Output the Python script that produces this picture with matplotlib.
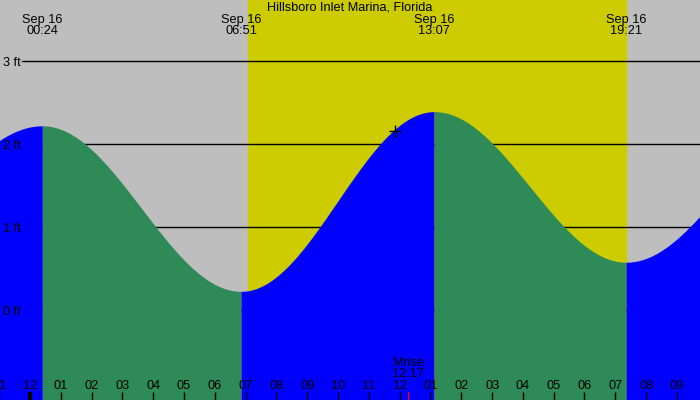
import matplotlib.pyplot as plt
import numpy as np

plt.rcParams["font.family"] = ["Liberation Sans", "DejaVu Sans"]

# tide extremes (hours after midnight Sep 16, feet); first and last lie outside the view
extreme_hours = [-6.6, 0.4, 6.85, 13.117, 19.35, 25.6]
extreme_feet = [0.35, 2.22, 0.23, 2.39, 0.58, 2.3]
# the four extremes that get a label at the top
label_hours = [0.4, 6.85, 13.117, 19.35]
label_times = ["00:24", "06:51", "13:07", "19:21"]
label_date = "Sep 16"

sunrise, sunset = 7.07, 19.34
moonrise, moonrise_label = 12.28, "12:17"
now_hour, now_feet = 11.85, 2.16
foot_levels = [0, 1, 2, 3]
hour_ticks = list(range(-1, 22))
title = "Hillsboro Inlet Marina, Florida"

night = "#bebebe"
day = "#cccc00"
falling = "#2e8b57"
rising = "#0000ff"
fs = 9.2

x_lo, x_hi = -0.974, 21.75
y_lo, y_hi = -1.076, 3.732

fig = plt.figure(figsize=(7, 4), dpi=100)
ax = fig.add_axes([0, 0, 1, 1])
ax.set_facecolor(night)
ax.set_xlim(x_lo, x_hi)
ax.set_ylim(y_lo, y_hi)
ax.axis("off")
ax.add_patch(plt.Rectangle((0, 0), 1, 1, transform=ax.transAxes, color=night, zorder=0))
ax.axvspan(sunrise, sunset, color=day, zorder=1)

for lvl in foot_levels:
    ax.axhline(lvl, xmin=0.031, xmax=1, color="black", lw=1, zorder=2)

# cosine curve between consecutive extremes
for i in range(len(extreme_hours) - 1):
    t0, t1 = extreme_hours[i], extreme_hours[i + 1]
    h0, h1 = extreme_feet[i], extreme_feet[i + 1]
    t = np.linspace(t0, t1, 200)
    h = h0 + (h1 - h0) * (1 - np.cos(np.pi * (t - t0) / (t1 - t0))) / 2
    color = falling if h1 < h0 else rising
    ax.fill_between(t, y_lo, h, color=color, lw=0, zorder=3)

for lvl in foot_levels:
    ax.text(3 / 700, lvl - 0.02, f"{lvl} ft", transform=ax.get_yaxis_transform(),
            ha="left", va="center", fontsize=fs, zorder=5)

ax.text(0.5, 1 - 8 / 400, title, transform=ax.transAxes, ha="center", va="center",
        fontsize=fs, zorder=5)
for hr, tm in zip(label_hours, label_times):
    ax.text(hr, 1 - 20 / 400, label_date, transform=ax.get_xaxis_transform(),
            ha="center", va="center", fontsize=fs, zorder=5)
    ax.text(hr, 1 - 31.5 / 400, tm, transform=ax.get_xaxis_transform(),
            ha="center", va="center", fontsize=fs, zorder=5)

xt = ax.get_xaxis_transform()
for hr in hour_ticks:
    lab = f"{(hr % 12) or 12:02d}"
    ax.text(hr, 14 / 400, lab, transform=xt, ha="center", va="center", fontsize=fs, zorder=5)
    ax.plot([hr, hr], [0, 8 / 400], transform=xt, color="black",
            lw=3 if hr % 24 == 0 else 1, zorder=5, solid_capstyle="butt")

ax.plot([moonrise, moonrise], [0, 8 / 400], transform=xt, color="red", lw=1, zorder=5)
ax.text(moonrise, 37 / 400, "Mrise", transform=xt, ha="center", va="center", fontsize=fs, zorder=5)
ax.text(moonrise, 26 / 400, moonrise_label, transform=xt, ha="center", va="center",
        fontsize=fs, zorder=5)

ax.plot(now_hour, now_feet, marker="+", color="black", ms=9, mew=1, zorder=6)

fig.savefig("out.png", dpi=100)
